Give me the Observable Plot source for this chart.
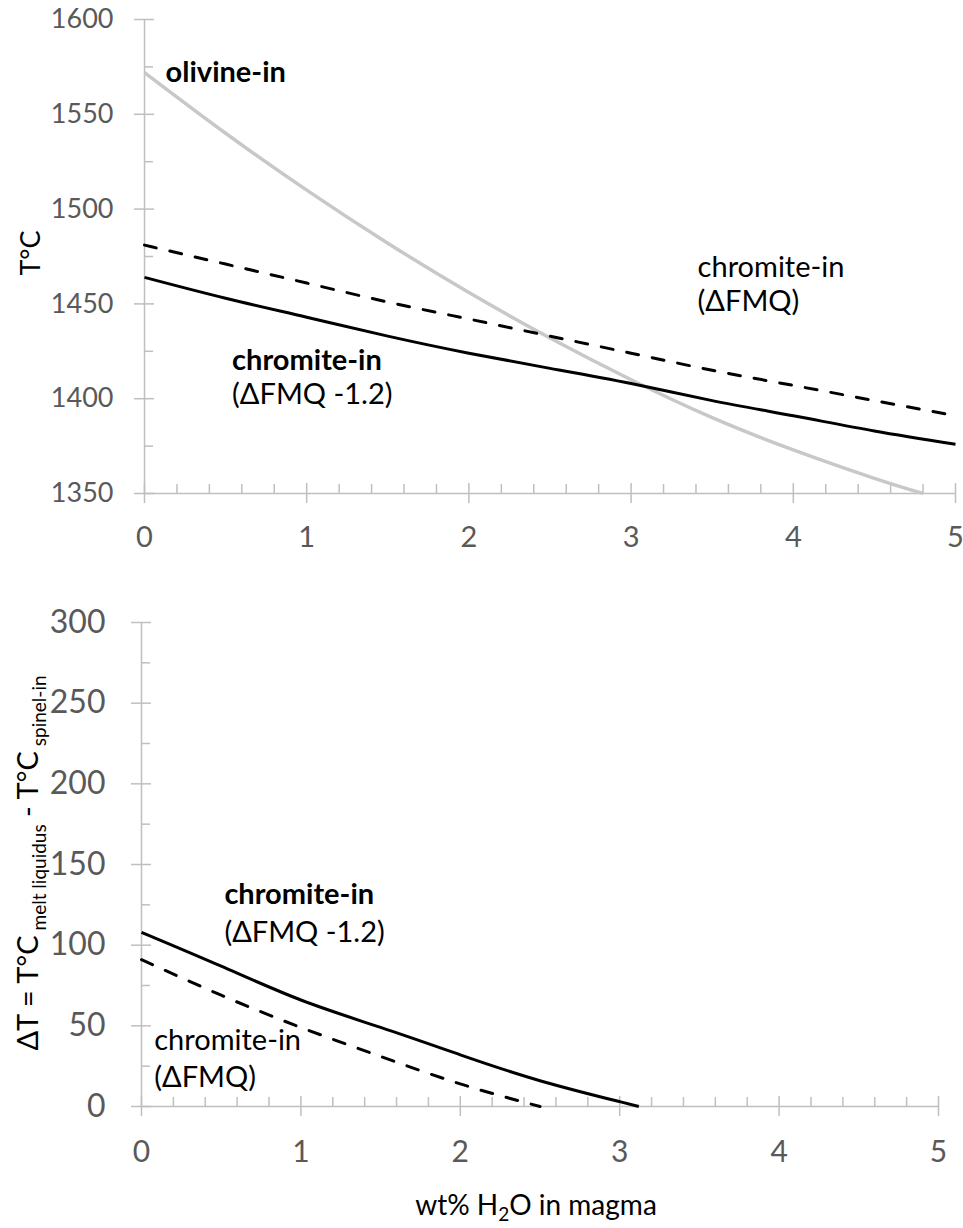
<!DOCTYPE html>
<html><head><meta charset="utf-8">
<script src="https://cdn.jsdelivr.net/npm/d3@7"></script>
<script src="https://cdn.jsdelivr.net/npm/@observablehq/plot@0.6"></script>
<style>
body{margin:0;background:#fff;}
#chart{position:relative;width:963px;height:1228px;overflow:hidden;}
#chart svg{display:block;}
</style></head><body><div id="chart"></div>
<script>
// ---- data ----
const olivineX = [0, 0.5, 1, 1.5, 2, 2.5, 3, 3.5, 4, 4.5, 4.8];
const olivineT = [1572, 1540, 1510, 1482, 1456, 1432, 1410, 1390, 1373, 1358, 1350];
const chromX = [0, 0.5, 1, 1.5, 2, 2.5, 3, 3.5, 4, 4.5, 5];
const chromFMQ_T = [1481, 1471, 1461, 1451, 1442, 1433, 1424, 1415, 1407, 1399, 1391];
const chromFMQm12_T = [1464, 1453, 1443, 1433, 1424, 1416, 1408, 1399, 1391, 1383, 1376];
const dTm12X = [0, 0.5, 1, 1.5, 2, 2.5, 3, 3.12];
const dTm12 = [108, 87, 66, 49, 32, 16, 3, 0];
const dTFMQX = [0, 0.5, 1, 1.5, 2, 2.5];
const dTFMQ = [91, 69, 49, 31, 14, 0];

const xMajor = [0, 1, 2, 3, 4, 5];
const xMinor = [0.2,0.4,0.6,0.8,1.2,1.4,1.6,1.8,2.2,2.4,2.6,2.8,3.2,3.4,3.6,3.8,4.2,4.4,4.6,4.8];
const topYMajor = [1350, 1400, 1450, 1500, 1550, 1600];
const topYMinor = [1375, 1425, 1475, 1525, 1575];
const botYMajor = [0, 50, 100, 150, 200, 250, 300];
const botYMinor = [25, 75, 125, 175, 225, 275];

// annotation texts (data-space anchors)
const topNotes = [
  {x: 0.13, y: 1572, t: "olivine-in", w: "bold"},
  {x: 3.41, y: 1469, t: "chromite-in", w: "normal"},
  {x: 3.41, y: 1451, t: "(ΔFMQ)", w: "normal"},
  {x: 0.54, y: 1420, t: "chromite-in", w: "bold"},
  {x: 0.54, y: 1402, t: "(ΔFMQ -1.2)", w: "normal"}
];
const botNotes = [
  {x: 0.52, y: 131, t: "chromite-in", w: "bold"},
  {x: 0.52, y: 108, t: "(ΔFMQ -1.2)", w: "normal"},
  {x: 0.08, y: 41, t: "chromite-in", w: "normal"},
  {x: 0.08, y: 18, t: "(ΔFMQ)", w: "normal"}
];

const FONT = "Lato, 'Open Sans', sans-serif";
const AX = "#bfbfbf", LBL = "#595959";

function panel(o) {
  const pw = o.width - o.ml - o.mr, ph = o.height - o.mt - o.mb;
  const toRows = (xs, ys) => xs.map((x, i) => ({x, y: ys[i]}));
  const noteOpts = {x: "x", y: "y", text: "t", textAnchor: "start", lineAnchor: "middle", fontSize: o.noteFont, fontFamily: FONT, fill: "#000"};
  const marks = [
    Plot.ruleX([0], {stroke: AX, strokeWidth: 1.5}),
    Plot.ruleY([o.yDomain[0]], {stroke: AX, strokeWidth: 1.5}),
    Plot.tickY(o.yMajor, {y: d => d, stroke: AX, strokeWidth: 1.5, insetLeft: -10, insetRight: pw - 10}),
    Plot.tickY(o.yMinor, {y: d => d, stroke: AX, strokeWidth: 1.5, insetLeft: 0, insetRight: pw - 9}),
    Plot.tickX(xMajor, {x: d => d, stroke: AX, strokeWidth: 1.5, insetTop: ph - 10, insetBottom: -10}),
    Plot.tickX(xMinor, {x: d => d, stroke: AX, strokeWidth: 1.5, insetTop: ph - 9, insetBottom: 0}),
    Plot.axisY(o.yMajor, {label: null, tickSize: 0, tickPadding: o.yPad, fontSize: o.yFont, fontFamily: FONT, fill: LBL, tickFormat: d => String(d)}),
    Plot.axisX(xMajor, {label: null, tickSize: 0, tickPadding: o.xPad, fontSize: o.xFont, fontFamily: FONT, fill: LBL, tickFormat: d => String(d)}),
    ...o.series.map(s => Plot.line(toRows(s.x, s.y), {x: "x", y: "y", stroke: s.color, strokeWidth: s.sw, strokeDasharray: s.dash, strokeLinecap: s.dash ? "round" : "butt", curve: "natural"})),
    Plot.text(o.notes.filter(d => d.w === "bold"), {...noteOpts, fontWeight: "bold"}),
    Plot.text(o.notes.filter(d => d.w !== "bold"), {...noteOpts, fontWeight: "normal"})
  ];
  return Plot.plot({
    width: o.width, height: o.height,
    marginLeft: o.ml, marginRight: o.mr, marginTop: o.mt, marginBottom: o.mb,
    x: {domain: [0, 5], axis: null},
    y: {domain: o.yDomain, axis: null},
    style: {background: "#fff", overflow: "visible"},
    marks
  });
}

const root = document.getElementById("chart");

const topPanel = panel({
  width: 963, height: 560, ml: 144, mr: 8, mt: 19, mb: 67,
  yDomain: [1350, 1600], yMajor: topYMajor, yMinor: topYMinor,
  yPad: 31, yFont: 27, xPad: 33, xFont: 29, noteFont: 29,
  notes: topNotes,
  series: [
    {x: olivineX, y: olivineT, color: "#c8c8c8", sw: 3.5},
    {x: chromX, y: chromFMQ_T, color: "#000", sw: 3, dash: "12,14"},
    {x: chromX, y: chromFMQm12_T, color: "#000", sw: 3}
  ]
});
root.appendChild(topPanel);
d3.select(topPanel).append("text")
  .attr("transform", "translate(40,253) rotate(-90)")
  .attr("text-anchor", "middle").attr("font-family", FONT).attr("font-size", 27)
  .attr("fill", "#000").text("T°C");

const botPanel = panel({
  width: 963, height: 668, ml: 141, mr: 25, mt: 62, mb: 122,
  yDomain: [0, 300], yMajor: botYMajor, yMinor: botYMinor,
  yPad: 36, yFont: 32, xPad: 34, xFont: 30, noteFont: 29,
  notes: botNotes,
  series: [
    {x: dTFMQX, y: dTFMQ, color: "#000", sw: 3, dash: "12,14"},
    {x: dTm12X, y: dTm12, color: "#000", sw: 3}
  ]
});
root.appendChild(botPanel);
const yl = d3.select(botPanel).append("text")
  .attr("transform", "translate(38,303) rotate(-90)")
  .attr("text-anchor", "middle").attr("font-family", FONT).attr("font-size", 29).attr("fill", "#000");
yl.append("tspan").text("ΔT = T°C");
yl.append("tspan").attr("font-size", 19).attr("dy", 8).text(" melt liquidus");
yl.append("tspan").attr("dy", -8).text(" - T°C");
yl.append("tspan").attr("font-size", 19).attr("dy", 8).text(" spinel-in");
const xl = d3.select(botPanel).append("text")
  .attr("x", 536).attr("y", 655)
  .attr("text-anchor", "middle").attr("font-family", FONT).attr("font-size", 28).attr("fill", "#000");
xl.append("tspan").text("wt% H");
xl.append("tspan").attr("font-size", 19).attr("dy", 6).text("2");
xl.append("tspan").attr("dy", -6).text("O in magma");
</script></body></html>
